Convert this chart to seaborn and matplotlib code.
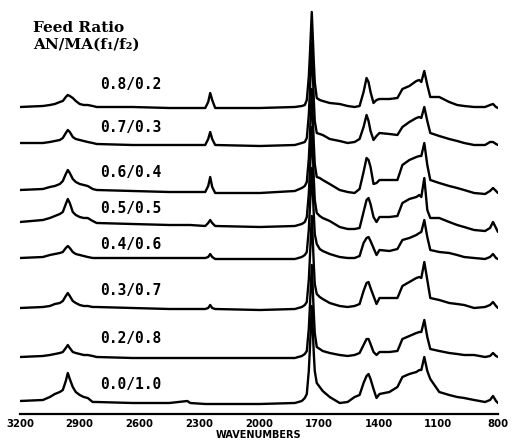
import matplotlib
matplotlib.use("Agg")
import matplotlib.pyplot as plt
import pandas as pd
import seaborn as sns

# ---------------- data ----------------
wavenumbers = [3200, 3085, 3050, 3025, 3000, 2985, 2970, 2960, 2950, 2935,
               2920, 2900, 2880, 2860, 2835, 2815, 2635, 2450, 2360, 2345,
               2270, 2255, 2245, 2235, 2220, 1995, 1820, 1785, 1770, 1760,
               1750, 1745, 1735, 1725, 1720, 1710, 1695, 1680, 1645, 1595,
               1555, 1520, 1495, 1475, 1460, 1450, 1440, 1425, 1410, 1395,
               1345, 1305, 1280, 1245, 1210, 1195, 1185, 1170, 1155, 1140,
               1095, 1045, 1005, 970, 920, 865, 840, 825, 810, 800]

feed_ratios = ["0.8/0.2", "0.7/0.3", "0.6/0.4", "0.5/0.5",
               "0.4/0.6", "0.3/0.7", "0.2/0.8", "0.0/1.0"]

# absorbance (arbitrary units) above each spectrum's own baseline
abs_08_02 = [0, 1, 2, 3, 5, 6, 10, 12, 11, 9, 6, 3, 2, 2, 1, 0, 0, -1, -1, -1,
             -1, 5, 14, 7, -1, -1, 0, 1, 2, 7, 30, 50, 95, 46, 25, 9, 7, 6, 4, 3,
             1, 0, 1, 15, 29, 25, 15, 4, 7, 8, 8, 9, 18, 21, 26, 27, 25, 36, 22, 10,
             10, 5, 2, 1, 0, 0, 2, 3, 0, -1]
abs_07_03 = [0, 0, 1, 2, 3, 5, 10, 13, 11, 6, 4, 3, 2, 1, 0, -1, -2, -2, -2, -2,
             -2, 4, 11, 4, -2, -3, -2, 0, 1, 5, 28, 48, 100, 44, 22, 10, 9, 8, 4, 2,
             0, 1, 4, 16, 28, 22, 12, 3, 7, 10, 9, 8, 16, 21, 25, 26, 25, 36, 22, 10,
             7, 4, 2, 0, -2, -2, 1, 1, -1, -2]
abs_06_04 = [-1, 0, 2, 3, 5, 8, 15, 19, 16, 10, 7, 5, 4, 3, 0, -1, -2, -3, -3, -3,
             -3, 3, 12, 2, -4, -4, -2, 1, 3, 7, 30, 50, 100, 46, 25, 12, 11, 9, 5, -1,
             -3, -4, 0, 17, 31, 29, 22, 5, 6, 9, 9, 9, 24, 29, 32, 33, 33, 46, 24, 9,
             6, 3, 1, -1, -4, -5, -2, 1, -2, -4]
abs_05_05 = [0, 2, 4, 6, 8, 10, 18, 23, 19, 10, 7, 5, 4, 4, 1, -1, -2, -3, -3, -3,
             -4, -1, 2, -1, -4, -5, -4, -2, 0, 5, 28, 48, 95, 44, 22, 9, 6, 4, 1, -5,
             -7, -7, -6, 10, 22, 24, 18, 5, 0, 5, 5, 6, 19, 23, 25, 27, 25, 44, 12, 4,
             4, 0, -3, -5, -8, -9, -6, 0, -6, -10]
abs_04_06 = [0, 1, 3, 4, 5, 6, 10, 12, 10, 6, 4, 3, 2, 1, 0, 0, 0, 0, 0, 0,
             0, 1, 4, 1, -1, -1, -1, 1, 3, 6, 28, 48, 90, 44, 24, 14, 9, 7, 4, 1,
             0, 0, 2, 15, 20, 21, 17, 10, 3, 8, 7, 9, 18, 20, 23, 25, 26, 38, 21, 8,
             6, 5, 3, 1, 0, -1, 1, 4, 0, -1]
abs_03_07 = [0, 1, 2, 4, 5, 7, 12, 15, 12, 7, 5, 3, 2, 2, 1, 1, 0, -1, -1, -1,
             -1, 0, 3, 0, -1, -2, -1, 1, 3, 6, 28, 48, 92, 44, 24, 14, 11, 9, 5, 2,
             1, 2, 4, 17, 25, 26, 20, 12, 4, 10, 10, 10, 22, 26, 30, 31, 30, 46, 28, 10,
             8, 5, 4, 3, 0, 1, 3, 6, 2, 0]
abs_02_08 = [0, 1, 2, 3, 4, 5, 9, 12, 9, 5, 4, 3, 2, 2, 1, 0, -1, -1, -1, -1,
             -1, -1, -1, -1, -1, -1, -1, 1, 3, 6, 28, 48, 92, 44, 24, 10, 8, 6, 4, 2,
             1, 2, 4, 12, 18, 18, 13, 5, 2, 5, 5, 6, 18, 21, 24, 25, 25, 37, 20, 8,
             6, 4, 3, 2, 2, 0, 1, 4, 1, 0]
abs_00_10 = [0, 1, 4, 7, 9, 11, 20, 28, 22, 14, 9, 6, 4, 3, -1, -1, -2, -2, 0, -2,
             -3, -3, -3, -3, -3, -3, -2, 0, 3, 7, 30, 50, 95, 48, 30, 18, 14, 10, 4, -2,
             -1, 4, 6, 18, 25, 27, 22, 12, 3, 7, 9, 14, 24, 27, 29, 31, 31, 44, 30, 22,
             9, 6, 4, 3, 1, -1, 1, 5, 0, -2]

x_ticks = [3200, 2900, 2600, 2300, 2000, 1700, 1400, 1100, 800]

# ---------------- layout / style ----------------
spectra = [abs_08_02, abs_07_03, abs_06_04, abs_05_05,
           abs_04_06, abs_03_07, abs_02_08, abs_00_10]
stack_offsets = [307, 271, 225, 192, 156, 106, 57, 13]
label_pos_px = [85, 128, 173, 208, 245, 290, 338, 385]

rows = []
for ratio, spec, off in zip(feed_ratios, spectra, stack_offsets):
    for wn, a in zip(wavenumbers, spec):
        rows.append({"wavenumber": wn, "signal": a + off, "ratio": ratio})
df = pd.DataFrame(rows)

sns.set_style("white")
plt.rcParams["text.color"] = "black"
plt.rcParams["axes.labelcolor"] = "black"
plt.rcParams["xtick.color"] = "black"

W, H = 521, 443
fig = plt.figure(figsize=(W / 100, H / 100), dpi=100)
ax = fig.add_axes([20 / W, 1 - 414 / H, 478 / W, 414 / H])

sns.lineplot(data=df, x="wavenumber", y="signal", hue="ratio",
             palette=["black"] * len(feed_ratios), estimator=None, sort=False,
             legend=False, linewidth=1.7, ax=ax)

ax.set_xlim(3200, 800)
ax.set_ylim(0, 414)
ax.set_yticks([])
ax.set_ylabel("")
for s in ("left", "right", "top"):
    ax.spines[s].set_visible(False)
ax.spines["bottom"].set_linewidth(1.6)
ax.spines["bottom"].set_color("black")
ax.set_xticks(x_ticks)
ax.set_xticklabels([str(t) for t in x_ticks], fontsize=7.3, fontweight="bold",
                   family="DejaVu Sans", color="black")
ax.tick_params(axis="x", direction="inout", length=4, width=1.2, pad=1.5,
               colors="black")
ax.set_xlabel("WAVENUMBERS", fontsize=7, fontweight="bold",
              family="DejaVu Sans", labelpad=0.5, color="black")

for ratio, ypx in zip(feed_ratios, label_pos_px):
    fig.text(100 / W, 1 - ypx / H, ratio, fontsize=10.5, fontweight="bold",
             family="DejaVu Sans Mono", va="center", ha="left", color="black")

fig.text(33 / W, 1 - 28 / H, "Feed Ratio", fontsize=11, fontweight="bold",
         family=["DejaVu Serif", "DejaVu Sans"], va="center", ha="left",
         color="black")
fig.text(33 / W, 1 - 45 / H, "AN/MA(f\u2081/f\u2082)", fontsize=11,
         fontweight="bold", family=["DejaVu Serif", "DejaVu Sans"],
         va="center", ha="left", color="black")

fig.savefig("out.png", dpi=100)
